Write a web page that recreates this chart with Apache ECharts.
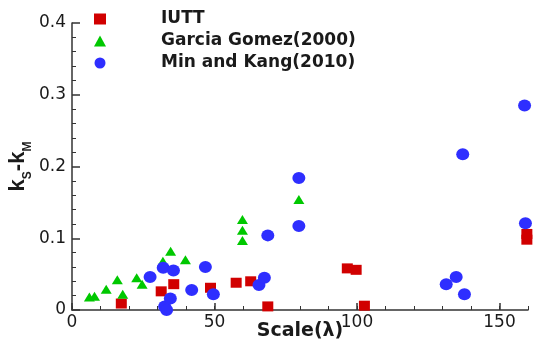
<!DOCTYPE html>
<html>
<head>
<meta charset="utf-8">
<script src="https://cdn.jsdelivr.net/npm/echarts@6/dist/echarts.min.js"></script>
<style>
  html, body { margin: 0; padding: 0; background: #fff; }
  #chart { width: 539px; height: 345px; }
</style>
</head>
<body>
<div id="chart"></div>
<script>
// Roughness difference k_S - k_M against model scale (lambda)
const seriesNames = ['IUTT', 'Garcia Gomez(2000)', 'Min and Kang(2010)'];

// [scale, ks - km]
const iutt = [
  [17.3, 0.009], [31.3, 0.026], [35.7, 0.036], [48.6, 0.031],
  [57.6, 0.038], [62.7, 0.040], [68.7, 0.005], [96.6, 0.058],
  [99.7, 0.056], [102.6, 0.006], [159.6, 0.106], [159.6, 0.098]
];
const garciaGomez = [
  [6.1, 0.018], [7.9, 0.019], [12.0, 0.029], [15.9, 0.042],
  [17.8, 0.022], [22.7, 0.045], [24.6, 0.036], [31.9, 0.068],
  [34.6, 0.082], [39.8, 0.070], [59.8, 0.126], [59.8, 0.111],
  [59.8, 0.097], [79.6, 0.154]
];
const minKang = [
  [27.4, 0.046], [32.0, 0.059], [35.6, 0.055], [46.8, 0.060],
  [42.0, 0.028], [49.6, 0.022], [32.5, 0.005], [34.5, 0.016],
  [33.2, 0.000], [65.6, 0.035], [67.5, 0.045], [68.7, 0.104],
  [79.6, 0.184], [79.6, 0.117], [131.3, 0.036], [134.8, 0.046],
  [137.7, 0.022], [137.1, 0.217], [159.1, 0.121], [158.8, 0.285]
];

const xMajorTicks = [0, 50, 100, 150];
const yTicks = [0, 0.1, 0.2, 0.3, 0.4];

const axisColor = '#333';
const textColor = '#1a1a1a';

const chart = echarts.init(document.getElementById('chart'), null, { renderer: 'canvas' });

chart.setOption({
  backgroundColor: '#fff',
  animation: false,
  grid: {
    left: 72, right: 11, top: 23, bottom: 35,
    containLabel: false,
    outerBoundsMode: 'none'
  },
  legend: {
    orient: 'vertical',
    left: 89, top: 4,
    itemWidth: 12, itemHeight: 11,
    itemGap: 2,
    data: seriesNames,
    textStyle: {
      fontFamily: 'DejaVu Sans', fontWeight: 'bold', fontSize: 17,
      color: textColor, lineHeight: 20, padding: [0, 0, 0, 50]
    }
  },
  xAxis: [
    {
      type: 'value', min: 0, max: 160, interval: 50,
      position: 'bottom',
      name: 'Scale(λ)', nameLocation: 'middle', nameGap: 12,
      nameMoveOverlap: false,
      nameTextStyle: { fontFamily: 'DejaVu Sans', fontWeight: 'bold', fontSize: 19, color: textColor },
      axisLine: { show: true, lineStyle: { color: axisColor, width: 1.5 } },
      axisTick: { show: true, inside: true, length: 7, customValues: xMajorTicks, lineStyle: { color: axisColor, width: 1.5 } },
      axisLabel: { customValues: xMajorTicks, margin: 4, fontFamily: 'DejaVu Sans', fontSize: 17, color: textColor },
      splitLine: { show: false }
    },
    {
      // minor ticks every 10 units
      type: 'value', min: 0, max: 160, interval: 10,
      position: 'bottom',
      axisLine: { show: false },
      axisTick: { show: true, inside: true, length: 4, lineStyle: { color: axisColor, width: 1 } },
      axisLabel: { show: false },
      splitLine: { show: false }
    }
  ],
  yAxis: {
    type: 'value', min: 0, max: 0.4, interval: 0.1,
    name: '{m|k}{s|S}{m|-k}{s|M}',
    nameLocation: 'middle', nameRotate: 90, nameGap: 38,
    nameMoveOverlap: false,
    nameTextStyle: {
      rich: {
        m: { fontFamily: 'Liberation Sans', fontWeight: 'bold', fontSize: 22, color: textColor },
        s: { fontFamily: 'Liberation Sans', fontWeight: 'bold', fontSize: 12, color: textColor, padding: [20, 0, 0, 0] }
      }
    },
    axisLine: { show: true, lineStyle: { color: axisColor, width: 1.5 } },
    axisTick: { show: true, inside: true, length: 8, lineStyle: { color: axisColor, width: 1.5 } },
    minorTick: { show: true, splitNumber: 5, length: 4, lineStyle: { color: axisColor, width: 1 } },
    axisLabel: {
      margin: 6, fontFamily: 'DejaVu Sans', fontSize: 17, color: textColor,
      formatter: v => String(+v.toFixed(1))
    },
    splitLine: { show: false }
  },
  series: [
    {
      name: seriesNames[0], type: 'scatter', data: iutt,
      symbol: 'rect', symbolSize: [11, 10],
      itemStyle: { color: '#d10000', opacity: 1 }
    },
    {
      name: seriesNames[1], type: 'scatter', data: garciaGomez,
      symbol: 'triangle', symbolSize: [11, 9],
      itemStyle: { color: '#00c800', opacity: 1 }
    },
    {
      name: seriesNames[2], type: 'scatter', data: minKang,
      symbol: 'circle', symbolSize: [13, 12],
      itemStyle: { color: '#2e2eff', opacity: 1 }
    }
  ]
});
</script>
</body>
</html>
